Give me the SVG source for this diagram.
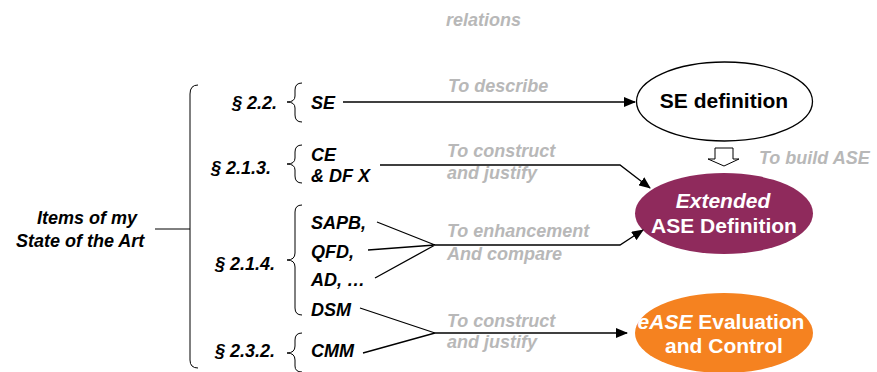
<svg xmlns="http://www.w3.org/2000/svg" width="877" height="372" viewBox="0 0 877 372">
<defs>
<style>
text{font-family:"Liberation Sans",Arial,sans-serif;font-weight:bold;}
.it{font-style:italic;font-size:18px;fill:#000;}
.gr{font-style:italic;font-size:18px;fill:#b8b8b8;}
.ln{fill:none;stroke:#000;stroke-width:1.3;}
.br{fill:none;stroke:#000;stroke-width:1;}
.wt{fill:#fff;font-size:21px;text-anchor:middle;}
</style>
<marker id="ah" markerWidth="12" markerHeight="10" refX="11" refY="5" orient="auto" markerUnits="userSpaceOnUse">
<path d="M0,0 L12,5 L0,10 Z" fill="#000"/>
</marker>
</defs>
<rect width="877" height="372" fill="#fff"/>
<text class="gr" x="446" y="26">relations</text>
<g id="root">
<text class="it" x="37" y="224">Items of my</text>
<text class="it" x="16" y="247">State of the Art</text>
<path class="br" d="M155,229 L190,229"/>
<path class="br" d="M198,85 Q190,85 190,94 L190,360 Q190,368 198,368"/>
</g>
<g id="g22">
<text class="it" x="232" y="109">§ 2.2.</text>
<path class="br" d="M302,83 Q295,83 295,90 L295,96 Q295,102 287,102 Q295,102 295,108 L295,115 Q295,122 302,122"/>
<text class="it" x="311" y="109">SE</text>
</g>
<g id="g213">
<text class="it" x="211" y="174">§ 2.1.3.</text>
<path class="br" d="M302,145 Q295,145 295,152 L295,158 Q295,164 287,164 Q295,164 295,170 L295,176 Q295,183 302,183"/>
<text class="it" x="311" y="161">CE</text>
<text class="it" x="311" y="182">&amp; DF X</text>
</g>
<g id="g214">
<text class="it" x="215" y="270">§ 2.1.4.</text>
<path class="br" d="M302,205 Q295,205 295,212 L295,253 Q295,260 287,260 Q295,260 295,267 L295,308 Q295,315 302,315"/>
<text class="it" x="311" y="229">SAPB,</text>
<text class="it" x="311" y="258">QFD,</text>
<text class="it" x="311" y="286">AD, …</text>
<text class="it" x="311" y="316">DSM</text>
</g>
<g id="g232">
<text class="it" x="215" y="357">§ 2.3.2.</text>
<path class="br" d="M302,333 Q295,333 295,340 L295,346 Q295,353 287,353 Q295,353 295,360 L295,366 Q295,372 302,372"/>
<text class="it" x="311" y="357">CMM</text>
</g>
<g id="se-def">
<ellipse cx="724.5" cy="101.5" rx="88" ry="39.5" fill="#fff" stroke="#000" stroke-width="1.3"/>
<text x="724" y="108" font-size="21" text-anchor="middle" fill="#000">SE definition</text>
</g>
<g id="ext-ase">
<ellipse cx="724" cy="213.5" rx="89" ry="40.5" fill="#8f2a5c"/>
<text class="wt" x="723" y="208" font-style="italic">Extended</text>
<text class="wt" x="724" y="233">ASE Definition</text>
</g>
<g id="ease">
<ellipse cx="724" cy="333" rx="89" ry="40" fill="#f58220"/>
<text class="wt" x="721" y="329"><tspan font-style="italic">eASE</tspan> Evaluation</text>
<text class="wt" x="724" y="353">and Control</text>
</g>
<g id="connectors">
<path class="ln" d="M343,102 L635,102" marker-end="url(#ah)"/>
<text class="gr" x="448" y="92">To describe</text>
<path class="ln" d="M380,165 L620,165 L650,188" marker-end="url(#ah)"/>
<text class="gr" x="447" y="157">To construct</text>
<text class="gr" x="447" y="179">and justify</text>
<path class="ln" d="M377,222 L435,245 M368,250 L435,245 M375,278 L435,245"/>
<path class="ln" d="M435,245 L620,245 L643,230" marker-end="url(#ah)"/>
<text class="gr" x="447" y="237">To enhancement</text>
<text class="gr" x="447" y="260">And compare</text>
<path class="ln" d="M360,308 L435,333 M363,353 L435,333"/>
<path class="ln" d="M435,333 L627,333" marker-end="url(#ah)"/>
<text class="gr" x="447" y="327">To construct</text>
<text class="gr" x="447" y="348">and justify</text>
<path d="M715,148 L733,148 L733,159 L739,159 L724,166 L708,159 L715,159 Z" fill="#fff" stroke="#000" stroke-width="1"/>
<text class="gr" x="759" y="164" font-size="17">To build ASE</text>
</g>
</svg>
